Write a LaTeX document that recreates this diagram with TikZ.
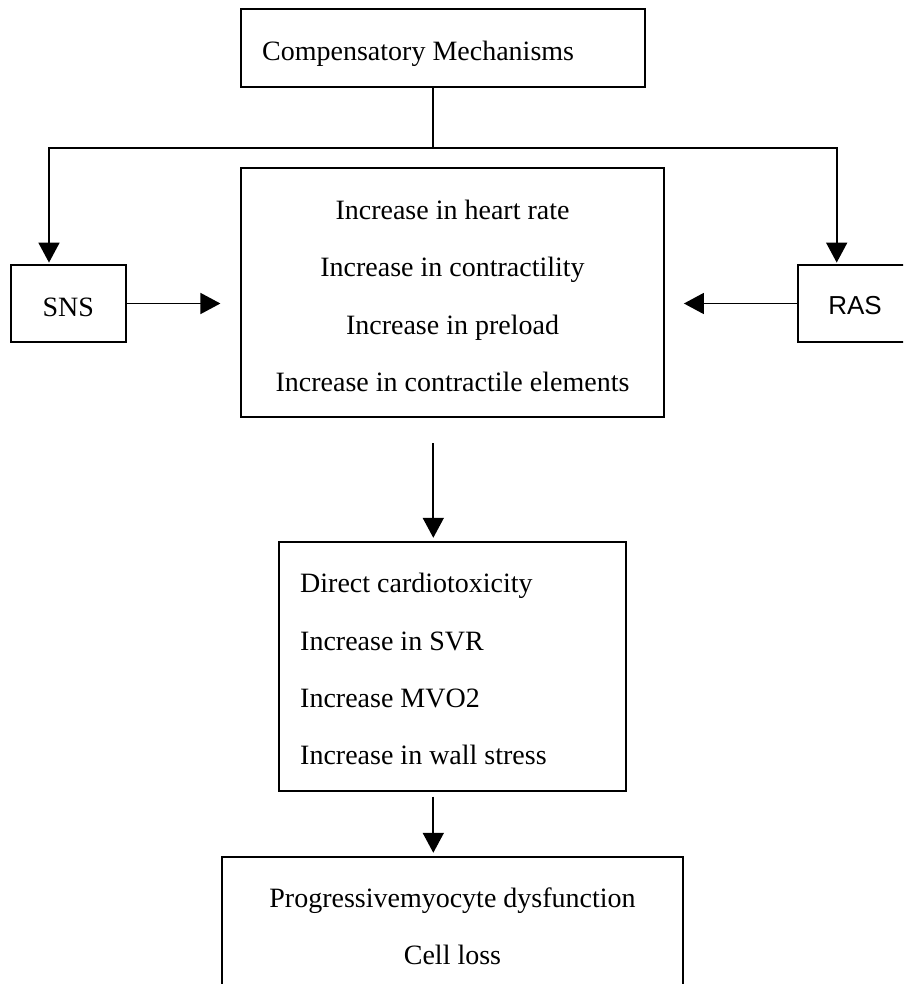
\documentclass[tikz,border=0pt]{standalone}
\usepackage{fontspec}
\setmainfont{Liberation Serif}
\newfontfamily\rasfont{Liberation Sans}
\usetikzlibrary{arrows.meta}
\tikzset{
  box/.style={draw=black, line width=1.8pt, rectangle, inner sep=0pt, fill=none},
  txt/.style={inner sep=0pt, font=\fontsize{28}{34}\selectfont},
  conn/.style={draw=black, line width=1.7pt},
  arr/.style={conn, -{Triangle[length=20pt, width=21pt]}},
}
\begin{document}
\begin{tikzpicture}[x=1pt, y=-1pt]
\clip (0,0) rectangle (903,984);
\fill[white] (0,0) rectangle (903,984);
% boxes
\node[box, minimum width=404pt, minimum height=77.4pt] (top) at (443,48) {};
\node[box, minimum width=115.3pt, minimum height=77pt] (sns) at (68.35,303.5) {};
\node[box, minimum width=115.3pt, minimum height=77pt] (ras) at (855.35,303.5) {};
\node[box, minimum width=422.7pt, minimum height=249pt] (mid) at (452.65,292.2) {};
\node[box, minimum width=346.4pt, minimum height=249pt] (low) at (452.5,666.2) {};
\node[box, minimum width=461pt, minimum height=160pt] (bot) at (452.5,936.7) {};
% texts
\node[txt, anchor=base west] (tTop) at (262,61) {Compensatory Mechanisms};
\node[txt, anchor=base] (tSns) at (68.3,316.7) {SNS};
\node[txt, anchor=base, font=\rasfont\fontsize{26}{30}\selectfont] (tRas) at (855,314.3) {RAS};
\node[txt, anchor=base] (m1) at (452.5,220) {Increase in heart rate};
\node[txt, anchor=base] (m2) at (452.5,276.7) {Increase in contractility};
\node[txt, anchor=base] (m3) at (452.5,334) {Increase in preload};
\node[txt, anchor=base] (m4) at (452.5,391.7) {Increase in contractile elements};
\node[txt, anchor=base west] (l1) at (300,592.7) {Direct cardiotoxicity};
\node[txt, anchor=base west] (l2) at (300,650) {Increase in SVR};
\node[txt, anchor=base west] (l3) at (300,707) {Increase MVO2};
\node[txt, anchor=base west] (l4) at (300,764) {Increase in wall stress};
\node[txt, anchor=base] (b1) at (452.5,907.3) {Progressivemyocyte dysfunction};
\node[txt, anchor=base] (b2) at (452.5,964.3) {Cell loss};
% connectors
\coordinate (jn) at (433.3,148.3);
\coordinate (sl) at (49,148.3);
\coordinate (rl) at (836.7,148.3);
\draw[conn] (top.south -| jn) -- (jn);
\draw[arr, shorten >=1.5pt] (jn) -- (sl) -- (sl |- sns.north);
\draw[arr, shorten >=1.5pt] (jn) -- (rl) -- (rl |- ras.north);
\draw[arr, shorten >=20pt] (sns.east) -- (sns.east -| mid.west);
\draw[arr, shorten >=19pt] (ras.west) -- (ras.west -| mid.east);
\draw[arr, shorten <=25.5pt, shorten >=3pt] (mid.south -| jn) -- (low.north -| jn);
\draw[arr, shorten <=5pt, shorten >=3pt] (low.south -| jn) -- (bot.north -| jn);
\end{tikzpicture}
\end{document}
